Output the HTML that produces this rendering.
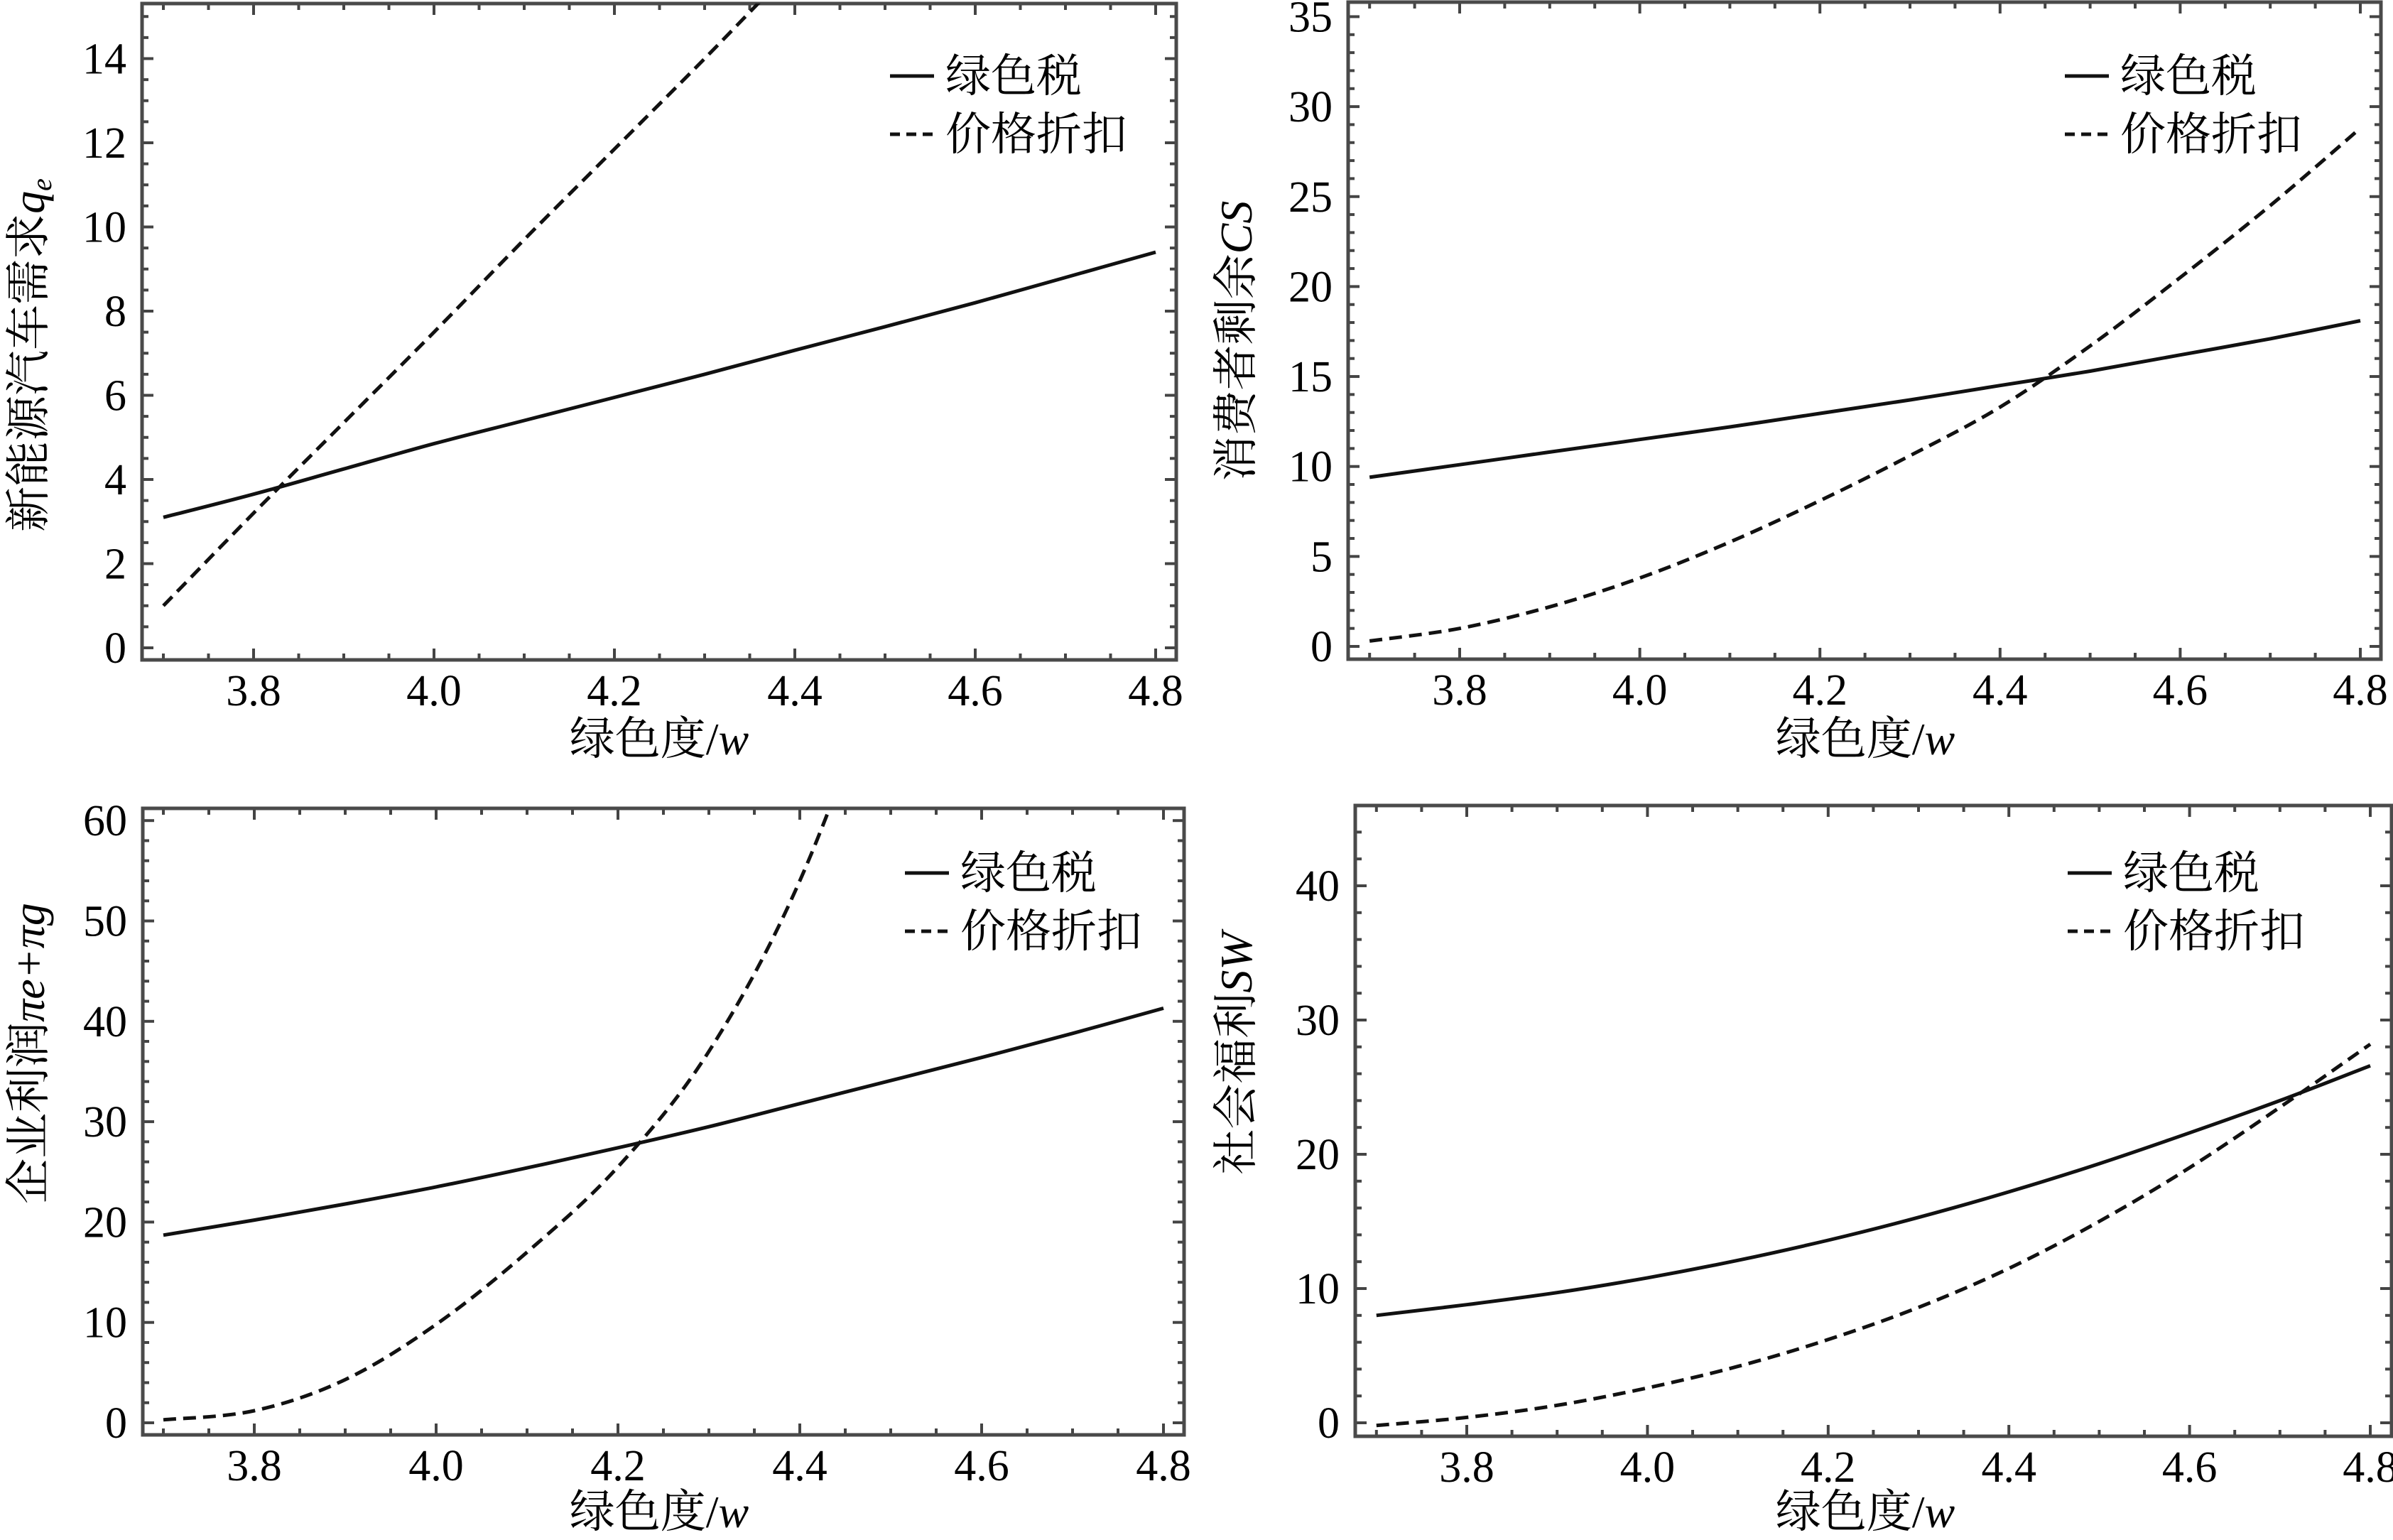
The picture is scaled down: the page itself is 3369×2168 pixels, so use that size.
<!DOCTYPE html>
<html><head><meta charset="utf-8">
<style>
html,body{margin:0;padding:0;background:#fff;}
svg{display:block;}
</style></head>
<body>
<svg id="fig" width="3369" height="2168" viewBox="0 0 3369 2168" xmlns="http://www.w3.org/2000/svg"></svg>
<script>
// ---- data (x = green degree w) ----
const xs = [3.7,3.8,3.9,4.0,4.1,4.2,4.3,4.4,4.5,4.6,4.7,4.8];
const xTicks = [3.8,4.0,4.2,4.4,4.6,4.8];
const xTickLabels = ["3.8","4.0","4.2","4.4","4.6","4.8"];
// panel A: demand q_e
const qTax = [3.1,3.65,4.25,4.85,5.4,5.95,6.5,7.07,7.63,8.2,8.8,9.4];
const qDisc = [1.0,3.2,5.35,7.5,9.7,11.85,14.0,16.2,18.3,20.5,22.6,24.8];
const qTicks = [0,2,4,6,8,10,12,14];
// panel B: consumer surplus CS
const csTax = [9.4,10.1,10.8,11.5,12.2,12.95,13.7,14.5,15.3,16.2,17.1,18.1];
const csDisc = [0.3,1.0,2.2,3.8,5.8,8.1,10.6,13.3,16.7,20.5,24.5,28.8];
const csTicks = [0,5,10,15,20,25,30,35];
// panel C: firm profit
const prTax = [18.7,20.2,21.8,23.5,25.4,27.4,29.5,31.8,34.1,36.4,38.8,41.3];
const prDisc = [0.3,1.2,4.3,9.8,17.0,25.5,37.0,54.0,78,105,135,170];
const prTicks = [0,10,20,30,40,50,60];
// panel D: social welfare SW
const swTax = [8.0,8.8,9.7,10.8,12.1,13.6,15.3,17.2,19.3,21.6,24.0,26.6];
const swDisc = [-0.2,0.4,1.3,2.6,4.2,6.2,8.6,11.5,15.0,19.0,23.5,28.2];
const swTicks = [0,10,20,30,40];

const NS="http://www.w3.org/2000/svg";
const FONT='"Liberation Serif","Noto Serif CJK SC",serif';
const svg=document.getElementById('fig');
function mk(tag,attrs,parent){const e=document.createElementNS(NS,tag);for(const k in attrs)e.setAttribute(k,attrs[k]);(parent||svg).appendChild(e);return e;}

const panels=[
 {name:'demand',L:200,R:1656,T:5,B:929,x38:357,x48:1627,y0:912,yPer:59.25,yTicks:qTicks,yMinor:0.5,tax:qTax,disc:qDisc,
  ytitle:'新能源汽车需求',ysym:'q',ysub:'e',tx:40,ty:500,xtx:928,xty:1062,lgx:1253,lgy:107},
 {name:'consumer-surplus',L:1898,R:3352,T:3,B:928,x38:2055,x48:3323,y0:910,yPer:25.33,yTicks:csTicks,yMinor:1,tax:csTax,disc:csDisc,
  ytitle:'消费者剩余',ysym:'CS',tx:1740,ty:480,xtx:2626,xty:1062,lgx:2907,lgy:107},
 {name:'firm-profit',L:201,R:1667,T:1138,B:2020,x38:358,x48:1638,y0:2003,yPer:14.13,yTicks:prTicks,yMinor:2,tax:prTax,disc:prDisc,
  ytitle:'企业利润',ysym:'πe+πg',tx:40,ty:1483,xtx:928,xty:2150,lgx:1274,lgy:1229},
 {name:'social-welfare',L:1908,R:3367,T:1134,B:2022,x38:2065,x48:3337,y0:2003,yPer:18.9,yTicks:swTicks,yMinor:2,tax:swTax,disc:swDisc,
  ytitle:'社会福利',ysym:'SW',tx:1740,ty:1483,xtx:2626,xty:2150,lgx:2911,lgy:1229}
];

function pathFrom(pts){
  let d='M'+pts[0][0].toFixed(1)+','+pts[0][1].toFixed(1);
  for(let i=0;i<pts.length-1;i++){
    const p0=pts[i-1]||pts[i],p1=pts[i],p2=pts[i+1],p3=pts[i+2]||p2;
    const c1=[p1[0]+(p2[0]-p0[0])/6,p1[1]+(p2[1]-p0[1])/6];
    const c2=[p2[0]-(p3[0]-p1[0])/6,p2[1]-(p3[1]-p1[1])/6];
    d+=' C'+c1[0].toFixed(1)+','+c1[1].toFixed(1)+' '+c2[0].toFixed(1)+','+c2[1].toFixed(1)+' '+p2[0].toFixed(1)+','+p2[1].toFixed(1);
  }
  return d;
}

panels.forEach((p,pi)=>{
  const g=mk('g',{});
  
  
  const xScale=v=>p.x38+(v-3.8)*(p.x48-p.x38);
  const yScale=v=>p.y0-v*p.yPer;
  const cid='clip'+pi;
  const cp=mk('clipPath',{id:cid},g);
  mk('rect',{x:p.L,y:p.T,width:p.R-p.L,height:p.B-p.T},cp);
  const tg=mk('g',{stroke:'#444','stroke-width':4},g);
  
  
  for(let k=0;;k++){
    const v=3.65+k*0.05; if(v>4.83)break;
    const x=xScale(v); if(x<p.L+2||x>p.R-2)continue;
    const major=Math.abs(Math.round(v*5)-v*5)<1e-6;
    const len=major?16:9;
    mk('line',{x1:x,y1:p.B,x2:x,y2:p.B-len},tg);
    mk('line',{x1:x,y1:p.T,x2:x,y2:p.T+len},tg);
  }
  const ymaxV=(p.y0-p.T)/p.yPer, yminV=(p.y0-p.B)/p.yPer;
  const step=p.yTicks[1]-p.yTicks[0];
  for(let v=Math.ceil(yminV/p.yMinor)*p.yMinor; v<=ymaxV; v+=p.yMinor){
    const y=yScale(v); if(y<p.T+2||y>p.B-2)continue;
    const major=Math.abs(v/step-Math.round(v/step))<1e-6;
    const len=major?16:9;
    mk('line',{x1:p.L,y1:y,x2:p.L+len,y2:y},tg);
    mk('line',{x1:p.R,y1:y,x2:p.R-len,y2:y},tg);
  }
  const fr=mk('rect',{x:p.L,y:p.T,width:p.R-p.L,height:p.B-p.T,fill:'none',stroke:'#4a4a4a','stroke-width':5},g);
  
  
  xTicks.forEach((v,i)=>{
    const t=mk('text',{x:xScale(v),y:p.B+64,'text-anchor':'middle','font-family':FONT,'font-size':'62',fill:'#000'},g);
    
    
    t.textContent=xTickLabels[i];
  });
  p.yTicks.forEach(v=>{
    const t=mk('text',{x:p.L-22,y:yScale(v)+21,'text-anchor':'end','font-family':FONT,'font-size':'62',fill:'#000'},g);
    
    
    t.textContent=String(v);
  });
  const sg=mk('g',{'clip-path':'url(#'+cid+')',fill:'none',stroke:'#111','stroke-width':5},g);
  const tp=mk('path',{d:pathFrom(xs.map((x,i)=>[xScale(x),yScale(p.tax[i])]))},sg);
  
  
  const dp=mk('path',{d:pathFrom(xs.map((x,i)=>[xScale(x),yScale(p.disc[i])])),'stroke-dasharray':'18 10'},sg);
  
  
  const xt=mk('text',{x:p.xtx,y:p.xty,'text-anchor':'middle','font-family':FONT,'font-size':'64',fill:'#000'},g);
  
  
  xt.appendChild(document.createTextNode('绿色度/'));
  const wsp=mk('tspan',{'font-style':'italic'},xt); wsp.textContent='w';
  const yt=mk('text',{x:0,y:0,'text-anchor':'middle','font-family':FONT,'font-size':'64',fill:'#000',transform:'translate('+(p.tx+22)+','+p.ty+') rotate(-90)'},g);
  
  
  yt.appendChild(document.createTextNode(p.ytitle));
  const s1=mk('tspan',{'font-style':'italic'},yt); s1.textContent=p.ysym;
  if(p.ysub){const s2=mk('tspan',{'font-style':'italic','font-size':'40',dy:'10'},yt); s2.textContent=p.ysub;}
  const lg=mk('g',{},g);
  
  
  const e1=mk('g',{},lg);
  
  
  mk('line',{x1:p.lgx,y1:p.lgy,x2:p.lgx+62,y2:p.lgy,stroke:'#111','stroke-width':5},e1);
  const l1=mk('text',{x:p.lgx+78,y:p.lgy+22,'font-family':FONT,'font-size':'64',fill:'#000'},e1); l1.textContent='绿色税';
  const e2=mk('g',{},lg);
  
  
  mk('line',{x1:p.lgx,y1:p.lgy+82,x2:p.lgx+62,y2:p.lgy+82,stroke:'#111','stroke-width':5,'stroke-dasharray':'14 9'},e2);
  const l2=mk('text',{x:p.lgx+78,y:p.lgy+104,'font-family':FONT,'font-size':'64',fill:'#000'},e2); l2.textContent='价格折扣';
});
</script>
</body></html>
